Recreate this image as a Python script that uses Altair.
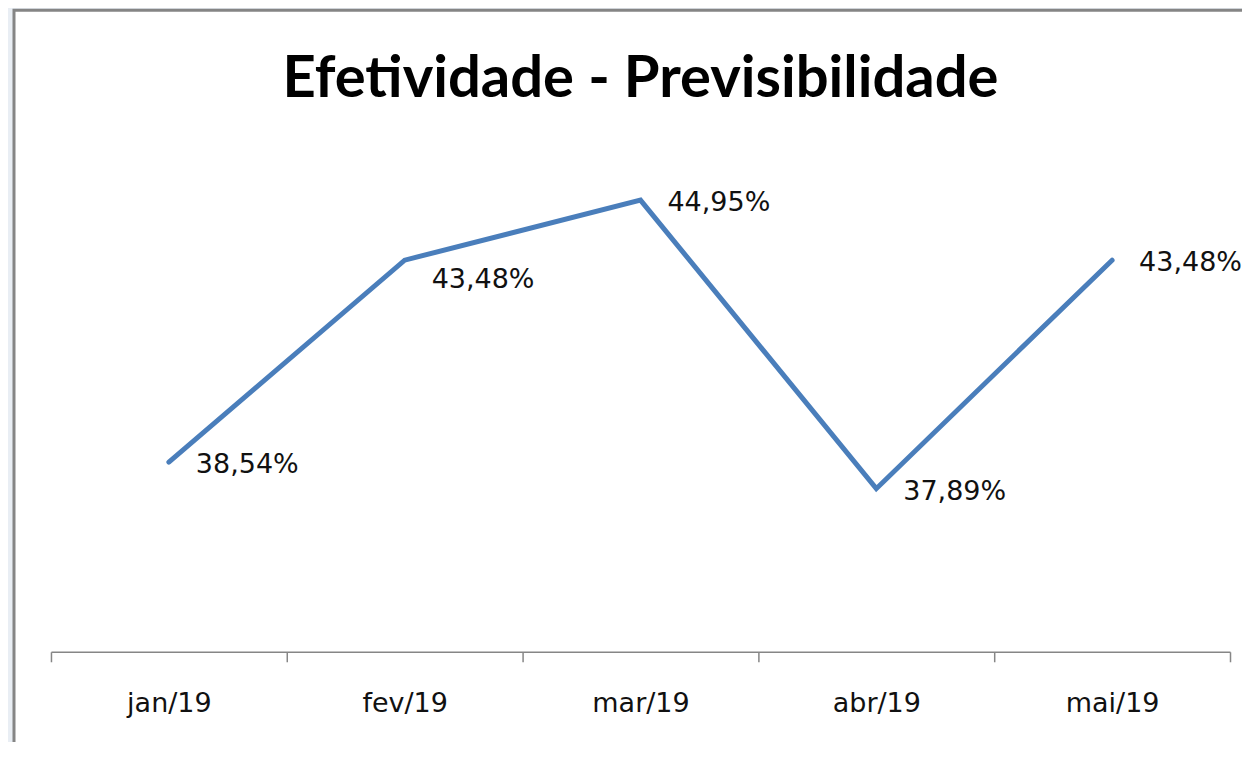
import altair as alt
import pandas as pd

months = ["jan/19", "fev/19", "mar/19", "abr/19", "mai/19"]
values = [38.54, 43.48, 44.95, 37.89, 43.48]
labels = ["38,54%", "43,48%", "44,95%", "37,89%", "43,48%"]
title_text = "Efetividade - Previsibilidade"

df = pd.DataFrame({"mes": months, "valor": values, "rotulo": labels})

W, H = 1180, 495

x = alt.X("mes:N", sort=months, title=None,
          scale=alt.Scale(type="band", paddingInner=0, paddingOuter=0),
          axis=alt.Axis(tickBand="extent", domainColor="#868686", tickColor="#868686",
                        tickSize=10, tickWidth=1.5, domainWidth=1.5, labelAngle=0,
                        labelFont="DejaVu Sans", labelFontSize=27, labelColor="#111111",
                        labelPadding=29, labelBaseline="top", grid=False, zindex=2))
y = alt.Y("valor:Q", title=None, axis=None,
          scale=alt.Scale(domain=[33.9, 46], zero=False, nice=False))

frame = alt.Chart(pd.DataFrame({"k": [0]})).mark_rect(
    fill="white", stroke="#858585", strokeWidth=3
).encode(x=alt.value(-37), x2=alt.value(W + 60), y=alt.value(-147), y2=alt.value(H + 150))

title = alt.Chart(pd.DataFrame({"t": [title_text]})).mark_text(
    font="Lato", fontSize=58, fontWeight="bold", color="#000000",
    align="center", baseline="alphabetic"
).encode(x=alt.value(W / 2), y=alt.value(-60), text="t:N")

line = alt.Chart(df).mark_line(color="#4a7ebb", strokeWidth=5, strokeCap="round").encode(x=x, y=y)

lab = alt.Chart(df).transform_filter(alt.datum.mes != "fev/19").mark_text(
    align="left", baseline="middle", dx=27, dy=3, font="DejaVu Sans", fontSize=27, color="#111111"
).encode(x=x, y=y, text="rotulo:N")

lab_fev = alt.Chart(df).transform_filter(alt.datum.mes == "fev/19").mark_text(
    align="left", baseline="middle", dx=27, dy=20, font="DejaVu Sans", fontSize=27, color="#111111"
).encode(x=x, y=y, text="rotulo:N")

chart = alt.layer(frame, title, line, lab, lab_fev).properties(
    width=W, height=H,
    autosize=alt.AutoSizeParams(type="none"),
    padding={"left": 43, "top": 149, "right": 12, "bottom": 90},
    background="#e9eef4",
).configure_view(stroke=None)

chart.save("out.html", embed_options={"renderer": "svg", "actions": False})
